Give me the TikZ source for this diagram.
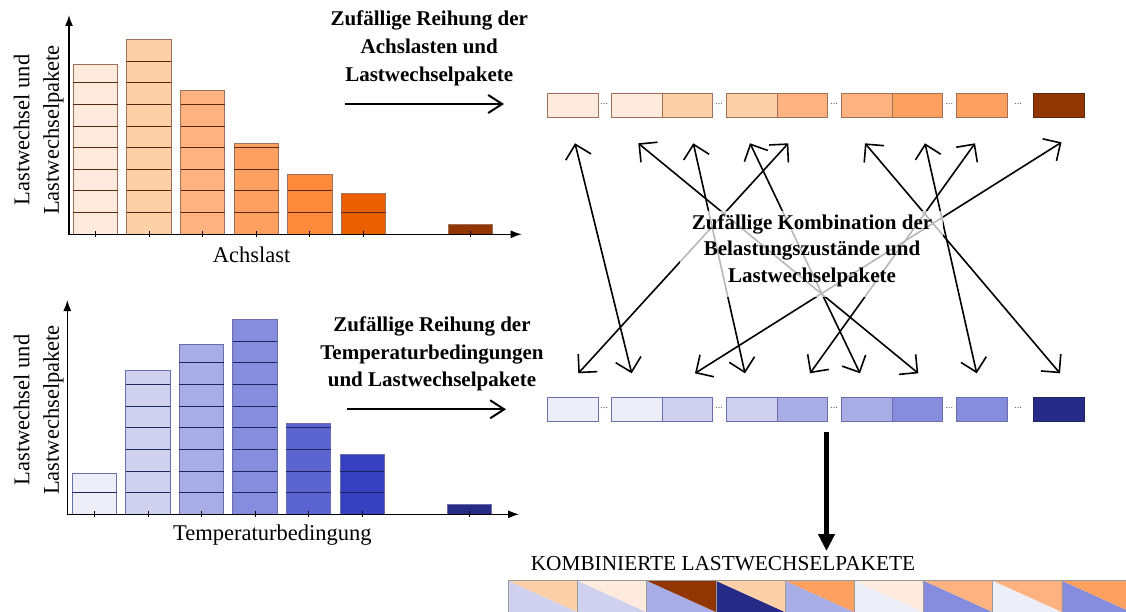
\documentclass[tikz,border=0pt]{standalone}
\usepackage{fontspec}
\setmainfont{Liberation Serif}
\usetikzlibrary{arrows.meta}

% orange scale (axle loads)
\definecolor{oA}{HTML}{FEEBDD}
\definecolor{oB}{HTML}{FDD0A8}
\definecolor{oC}{HTML}{FDB27F}
\definecolor{oD}{HTML}{FDA060}
\definecolor{oE}{HTML}{FD8A3A}
\definecolor{oF}{HTML}{EA5F00}
\definecolor{oG}{HTML}{913600}
% blue scale (temperature conditions)
\definecolor{bA}{HTML}{EEEEF9}
\definecolor{bB}{HTML}{CFD1EF}
\definecolor{bC}{HTML}{A8ADE6}
\definecolor{bD}{HTML}{878DDE}
\definecolor{bE}{HTML}{5C64D2}
\definecolor{bF}{HTML}{3541C1}
\definecolor{bG}{HTML}{252B86}
% outlines
\definecolor{oedge}{HTML}{A07058}
\definecolor{oseg}{HTML}{5A2A10}
\definecolor{bedge}{HTML}{6A6EAA}
\definecolor{bseg}{HTML}{1E2460}

% stacked bar: x centre, base y, height in packets, fill, outline, separator colour
\newcommand\stackbar[6]{%
  \pgfmathsetmacro\sbtop{#2-#3*21.65}%
  \filldraw[fill=#4, draw=#5, line width=0.9pt] (#1-22.2,#2) rectangle (#1+22.2,\sbtop);%
  \pgfmathtruncatemacro\sbn{floor(#3-0.01)}%
  \ifnum\sbn>0
    \foreach \j in {1,...,\sbn}{\draw[#6, line width=1pt] (#1-22.2,#2-\j*21.65) -- (#1+22.2,#2-\j*21.65);}%
  \fi}

\tikzset{
  axis/.style={line width=1.3pt, -{Latex[length=11pt,width=8pt]}},
  tick/.style={line width=0.9pt},
  axislabel/.style={font=\fontsize{22.5}{29.5}\selectfont, inner sep=0pt},
  headline/.style={font=\fontsize{21}{27.6}\selectfont\bfseries, align=center, inner sep=0pt},
  orderarrow/.style={line width=2pt, -{Straight Barb[length=14pt,width=18pt]}},
  pairarrow/.style={line width=1.6pt, {Straight Barb[length=13pt,width=26pt]}-{Straight Barb[length=13pt,width=26pt]}},
  ocell/.style={draw=oedge, line width=0.9pt, minimum width=50.6pt, minimum height=23.4pt, inner sep=0pt, anchor=north west},
  bcell/.style={draw=bedge, line width=0.9pt, minimum width=50.6pt, minimum height=23.4pt, inner sep=0pt, anchor=north west},
  gapdots/.style={font=\fontsize{10}{10}\selectfont, text=black!65, inner sep=0pt},
  combedge/.style={draw=black!40, line width=0.8pt},
}

\begin{document}
\begin{tikzpicture}[x=1pt, y=-1pt]
\useasboundingbox (0,0) rectangle (1126,612);

% ---------- axle load histogram ----------
\foreach \k/\h/\c in {0/7.85/oA, 1/9/oB, 2/6.65/oC, 3/4.2/oD, 4/2.77/oE, 5/1.89/oF, 7/0.44/oG}{
  \pgfmathsetmacro\xc{95.5+53.6*\k}
  \stackbar{\xc}{234.3}{\h}{\c}{oedge}{oseg}
}
\draw[axis] (69,234.3) -- (69,15);
\draw[axis] (68.3,234.3) -- (521.7,234.3);
\foreach \k in {0,...,5,7}{\draw[tick] (95.5+53.6*\k,231.3) -- ++(0,6);}
\node[axislabel, rotate=90, align=center] (ylabA) at (38.8,130) {Lastwechsel und\\Lastwechselpakete};
\node[axislabel] (xlabA) at (251.7,255) {Achslast};

% ---------- temperature histogram ----------
\foreach \k/\h/\c in {0/1.89/bA, 1/6.65/bB, 2/7.85/bC, 3/9/bD, 4/4.2/bE, 5/2.77/bF, 7/0.44/bG}{
  \pgfmathsetmacro\xc{94.4+53.55*\k}
  \stackbar{\xc}{514.3}{\h}{\c}{bedge}{bseg}
}
\draw[axis] (67.3,514.3) -- (67.3,300);
\draw[axis] (66.6,514.3) -- (519,514.3);
\foreach \k in {0,...,5,7}{\draw[tick] (94.4+53.55*\k,511.3) -- ++(0,6);}
\node[axislabel, rotate=90, align=center] (ylabB) at (38.8,410) {Lastwechsel und\\Lastwechselpakete};
\node[axislabel] (xlabB) at (272.4,535) {Temperaturbedingung};

% ---------- ordering steps ----------
\node[headline] (orderA) at (429.3,48.4) {Zufällige Reihung der\\Achslasten und\\Lastwechselpakete};
\coordinate (orderAfrom) at (344.8,104);
\coordinate (orderAto) at (504,104);
\draw[orderarrow] (orderAfrom) -- (orderAto);

\node[headline] (orderB) at (432,354) {Zufällige Reihung der\\Temperaturbedingungen\\und Lastwechselpakete};
\coordinate (orderBfrom) at (346.6,409.3);
\coordinate (orderBto) at (506,409.3);
\draw[orderarrow] (orderBfrom) -- (orderBto);

% ---------- ordered sequences ----------
\foreach \i/\x/\c in {1/547/oA, 2/611/oA, 3/661.6/oB, 4/726/oB, 5/776.6/oC, 6/841.2/oC, 7/891.8/oD, 8/956.4/oD, 9/1033.2/oG}{
  \node[ocell, fill=\c] (top\i) at (\x,93.3) {};
}
\draw[oseg, line width=0.9pt] (top9.north west) rectangle (top9.south east);
\foreach \i/\x/\c in {1/547/bA, 2/611/bA, 3/661.6/bB, 4/726/bB, 5/776.6/bC, 6/841.2/bC, 7/891.8/bD, 8/956.4/bD, 9/1033.2/bG}{
  \node[bcell, fill=\c] (bot\i) at (\x,397.3) {};
}
\draw[bseg, line width=0.9pt] (bot9.north west) rectangle (bot9.south east);
\foreach \i/\x in {1/604.3, 2/719.1, 3/834.2, 4/949.4, 5/1018}{
  \node[gapdots] (topdots\i) at (\x,104) {...};
  \node[gapdots] (botdots\i) at (\x,408) {...};
}

% ---------- random pairing ----------
\coordinate (u1) at (575,143.3);
\coordinate (u2) at (638.3,143.3);
\coordinate (u3) at (693.3,143.3);
\coordinate (u4) at (750,143.3);
\coordinate (u5) at (788.3,143.3);
\coordinate (u6) at (865,143.3);
\coordinate (u7) at (925,143.3);
\coordinate (u8) at (975,143.3);
\coordinate (u9) at (1061.5,142.3);
\coordinate (l1) at (578.3,373.3);
\coordinate (l2) at (631.7,373.3);
\coordinate (l3) at (695,373.3);
\coordinate (l4) at (745,373.3);
\coordinate (l5) at (810,373.3);
\coordinate (l6) at (860,373.3);
\coordinate (l7) at (918.3,373.3);
\coordinate (l8) at (976.7,373.3);
\coordinate (l9) at (1060,373.3);
\foreach \a/\b in {u1/l2, u2/l7, u3/l4, u4/l6, u5/l1, u6/l9, u7/l8, u8/l5, u9/l3}{
  \draw[pairarrow] (\a) -- (\b);
}
\fill[white, fill opacity=0.72] (680,211) rectangle (943.3,296.5);
\node[headline, font=\fontsize{21}{26.8}\selectfont\bfseries] (pairing) at (812,250.7) {Zufällige Kombination der\\Belastungszustände und\\Lastwechselpakete};

% ---------- combined packets ----------
\coordinate (mergefrom) at (826.5,432);
\coordinate (mergeto) at (826.5,551);
\draw[line width=4.5pt, -{Triangle[length=17pt,width=16pt]}] (mergefrom) -- (mergeto);
\node[anchor=base west, font=\fontsize{21.3}{25}\selectfont, inner sep=0pt] (combtitle) at (530.6,570) {KOMBINIERTE LASTWECHSELPAKETE};
\foreach \k/\o/\b in {0/oB/bB, 1/oA/bB, 2/oG/bC, 3/oB/bG, 4/oD/bC, 5/oA/bA, 6/oC/bD, 7/oC/bA, 8/oD/bD}{
  \pgfmathsetmacro\cx{508.3+69.2*\k}
  \fill[\b] (\cx,580.7) -- (\cx+69.2,612) -- (\cx+69.2,620) -- (\cx,620) -- cycle;
  \fill[\o] (\cx,580.7) -- (\cx+69.2,580.7) -- (\cx+69.2,612) -- cycle;
  \draw[combedge] (\cx,620) -- (\cx,580.7) -- (\cx+69.2,580.7) -- (\cx+69.2,620);
}
\end{tikzpicture}
\end{document}
